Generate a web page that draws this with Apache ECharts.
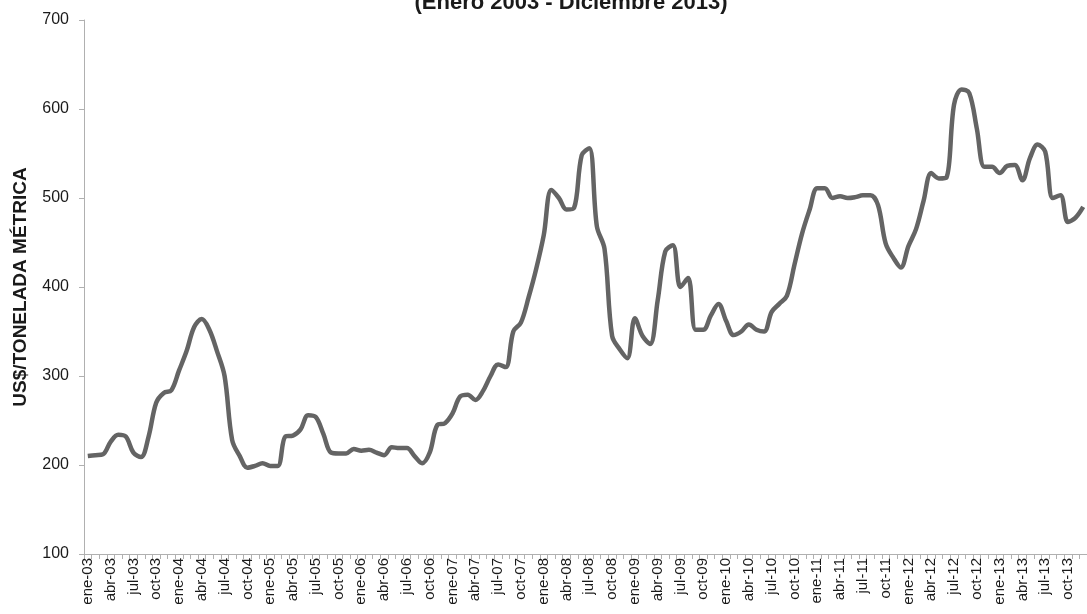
<!DOCTYPE html>
<html>
<head>
<meta charset="utf-8">
<script src="https://cdn.jsdelivr.net/npm/echarts@6/dist/echarts.min.js"></script>
<style>
    html, body { margin: 0; padding: 0; background: #fff; }
    #chart { width: 1087px; height: 614px; }
</style>
</head>
<body>
<div id="chart"></div>
<script>
// Meses de ene-03 a dic-13
const meses = ['ene', 'feb', 'mar', 'abr', 'may', 'jun', 'jul', 'ago', 'sep', 'oct', 'nov', 'dic'];
const anios = ['03', '04', '05', '06', '07', '08', '09', '10', '11', '12', '13'];

// US$ por tonelada métrica
const precios2003 = [210, 211, 212, 226, 234, 232, 214, 209, 232, 270, 281, 284];
const precios2004 = [306, 328, 355, 364, 352, 328, 300, 228, 210, 197, 199, 202];
const precios2005 = [199, 199, 232, 233, 240, 256, 254, 235, 214, 213, 213, 218];
const precios2006 = [216, 217, 214, 211, 220, 219, 219, 210, 202, 214, 245, 247];
const precios2007 = [258, 277, 279, 273, 283, 300, 313, 310, 350, 360, 388, 420];
const precios2008 = [458, 509, 500, 487, 489, 548, 556, 468, 443, 345, 330, 320];
const precios2009 = [365, 345, 336, 385, 440, 447, 400, 410, 352, 352, 368, 381];
const precios2010 = [362, 346, 350, 358, 352, 350, 372, 381, 390, 425, 460, 487];
const precios2011 = [511, 511, 500, 502, 500, 501, 503, 503, 492, 449, 433, 422];
const precios2012 = [446, 465, 497, 528, 522, 523, 605, 622, 618, 578, 535, 535];
const precios2013 = [528, 536, 537, 520, 545, 560, 552, 500, 503, 473, 478, 490];

const categorias = [];
anios.forEach(a => {
    meses.forEach(m => categorias.push(m + '-' + a));
});

const valores = [].concat(
    precios2003, precios2004, precios2005, precios2006, precios2007, precios2008,
    precios2009, precios2010, precios2011, precios2012, precios2013
);

const option = {
    animation: false,
    title: {
        text: '(Enero 2003 - Diciembre 2013)',
        left: 566,
        top: -13,
        textAlign: 'center',
        textStyle: {
            fontFamily: 'Liberation Sans',
            fontSize: 22,
            fontWeight: 'bold',
            color: '#1a1a1a'
        }
    },
    grid: {
        left: 84,
        right: -7,
        top: 20,
        bottom: 60
    },
    xAxis: {
        type: 'category',
        data: categorias,
        boundaryGap: true,
        axisLine: {
            lineStyle: { color: '#b0b0b0', width: 1 }
        },
        axisTick: {
            show: true,
            interval: 0,
            length: 5,
            lineStyle: { color: '#b0b0b0' }
        },
        axisLabel: {
            interval: 2,
            rotate: 90,
            margin: 4,
            fontFamily: 'Liberation Sans',
            fontSize: 15,
            color: '#1a1a1a'
        },
        splitLine: { show: false }
    },
    yAxis: {
        type: 'value',
        min: 100,
        max: 700,
        interval: 100,
        name: 'US$/TONELADA MÉTRICA',
        nameLocation: 'middle',
        nameGap: 54,
        nameTextStyle: {
            fontFamily: 'Liberation Sans',
            fontSize: 19,
            fontWeight: 'bold',
            color: '#1a1a1a'
        },
        axisLine: {
            show: true,
            lineStyle: { color: '#b0b0b0', width: 1 }
        },
        axisTick: {
            show: true,
            length: 5,
            lineStyle: { color: '#b0b0b0' }
        },
        axisLabel: {
            margin: 15,
            fontFamily: 'Liberation Sans',
            fontSize: 16,
            color: '#1a1a1a'
        },
        splitLine: { show: false }
    },
    series: [{
        type: 'line',
        data: valores,
        smooth: 0.35,
        showSymbol: false,
        lineStyle: {
            color: '#646464',
            width: 4.5
        }
    }]
};

const myChart = echarts.init(document.getElementById('chart'));
myChart.setOption(option);
window.addEventListener('resize', myChart.resize);
</script>
</body>
</html>
